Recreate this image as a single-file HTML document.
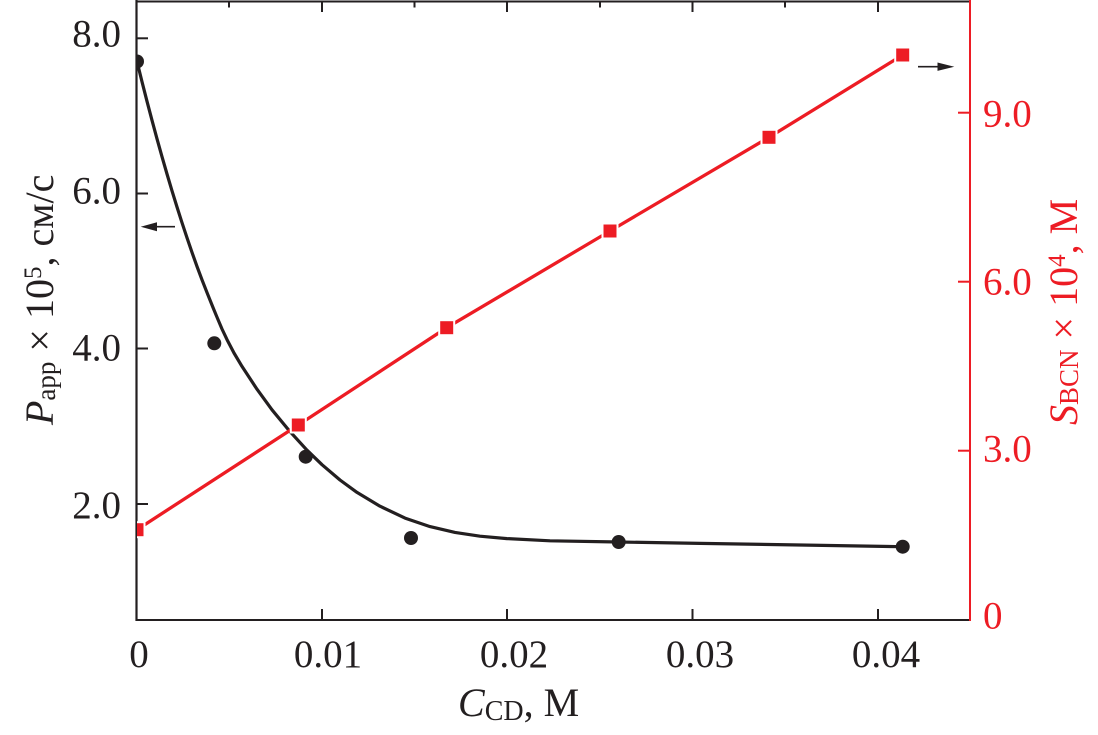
<!DOCTYPE html>
<html>
<head>
<meta charset="utf-8">
<style>
  html, body { margin: 0; padding: 0; background: #ffffff; }
  svg { display: block; }
  text { font-family: "Liberation Serif", "DejaVu Serif", serif; }
</style>
</head>
<body>
<svg width="1098" height="735" viewBox="0 0 1098 735" xmlns="http://www.w3.org/2000/svg">
  <defs>
    <clipPath id="plot">
      <rect x="137" y="0" width="833" height="620"/>
    </clipPath>
  </defs>
  <rect x="0" y="0" width="1098" height="735" fill="#ffffff"/>

  <!-- axes frame -->
  <line x1="136.5" y1="1.5" x2="970" y2="1.5" stroke="#231f20" stroke-width="2"/>
  <line x1="136.5" y1="0" x2="136.5" y2="621" stroke="#231f20" stroke-width="2.2"/>
  <line x1="135.5" y1="620" x2="970" y2="620" stroke="#231f20" stroke-width="2"/>
  <line x1="970" y1="0" x2="970" y2="621" stroke="#ed1c24" stroke-width="2"/>

  <!-- left ticks -->
  <g stroke="#231f20" stroke-width="2">
    <line x1="136.5" y1="38.3" x2="148" y2="38.3"/>
    <line x1="136.5" y1="193.5" x2="148" y2="193.5"/>
    <line x1="136.5" y1="348.5" x2="148" y2="348.5"/>
    <line x1="136.5" y1="504" x2="148" y2="504"/>
  </g>
  <!-- bottom ticks -->
  <g stroke="#231f20" stroke-width="2">
    <line x1="322" y1="620" x2="322" y2="609"/>
    <line x1="507" y1="620" x2="507" y2="609"/>
    <line x1="692.5" y1="620" x2="692.5" y2="609"/>
    <line x1="878" y1="620" x2="878" y2="609"/>
  </g>
  <!-- top ticks -->
  <g stroke="#231f20" stroke-width="2">
    <line x1="229" y1="1.5" x2="229" y2="7.5"/>
    <line x1="322" y1="1.5" x2="322" y2="12"/>
    <line x1="414.5" y1="1.5" x2="414.5" y2="7.5"/>
    <line x1="507" y1="1.5" x2="507" y2="12"/>
    <line x1="600" y1="1.5" x2="600" y2="7.5"/>
    <line x1="692.5" y1="1.5" x2="692.5" y2="12"/>
    <line x1="785" y1="1.5" x2="785" y2="7.5"/>
    <line x1="878" y1="1.5" x2="878" y2="12"/>
  </g>
  <!-- right ticks -->
  <g stroke="#ed1c24" stroke-width="2">
    <line x1="958" y1="112.7" x2="970" y2="112.7"/>
    <line x1="958" y1="281.7" x2="970" y2="281.7"/>
    <line x1="958" y1="450.7" x2="970" y2="450.7"/>
  </g>

  <!-- left tick labels -->
  <g font-size="39" fill="#231f20" text-anchor="end">
    <text x="121" y="46.7">8.0</text>
    <text x="121" y="203.3">6.0</text>
    <text x="121" y="360.7">4.0</text>
    <text x="121" y="518">2.0</text>
  </g>
  <!-- bottom tick labels -->
  <g font-size="39" fill="#231f20" text-anchor="middle">
    <text x="139" y="667">0</text>
    <text x="328" y="667">0.01</text>
    <text x="514" y="667">0.02</text>
    <text x="700" y="667">0.03</text>
    <text x="886" y="667">0.04</text>
  </g>
  <!-- right tick labels -->
  <g font-size="39" fill="#ed1c24" text-anchor="start">
    <text x="983" y="126.7">9.0</text>
    <text x="983" y="294.3">6.0</text>
    <text x="983" y="461.7">3.0</text>
    <text x="983" y="628.3">0</text>
  </g>

  <!-- x axis title -->
  <text x="458" y="716" font-size="40" fill="#231f20"><tspan font-style="italic">C</tspan><tspan font-size="28" dy="4">CD</tspan><tspan dy="-4">, М</tspan></text>

  <!-- left axis title -->
  <text transform="translate(53,425) rotate(-90)" font-size="40" fill="#231f20"><tspan font-style="italic">P</tspan><tspan font-size="27" dy="2">app</tspan><tspan dy="-2"> × 10</tspan><tspan font-size="25" dy="-12">5</tspan><tspan dy="12">, см/с</tspan></text>

  <!-- right axis title -->
  <text transform="translate(1077,425) rotate(-90)" font-size="40" fill="#ed1c24"><tspan font-style="italic">S</tspan><tspan font-size="27" dy="1">BCN</tspan><tspan dy="-1"> × 10</tspan><tspan font-size="25" dy="-12">4</tspan><tspan dy="12">, М</tspan></text>

  <g clip-path="url(#plot)">
    <!-- black fitted curve -->
    <polyline points="137,61.5 142,81.7 147,101.3 152,120.3 157,138.8 162,156.7 167,174 172,190.8 177,207 182,222.7 187,237.8 192,252.4 197,266.4 202,279.8 207,292.6 213,307.5 217,317.2 222,329 227,339.6 234,353 242,366.4 257,389.2 272,409.8 290,431.6 307,450.2 322,464.7 340,480 357,492.4 380,506.2 405,518.1 430,526.6 455,532.4 480,536.2 507,538.6 550,540.8 618.7,542 700,543.4 800,545 902.7,546.7" fill="none" stroke="#231f20" stroke-width="3.2" stroke-linejoin="round" stroke-linecap="round"/>

    <!-- red line -->
    <polyline points="137,529.7 298.3,425 446.7,327.7 610,231 769,137.3 902.7,55" fill="none" stroke="#ed1c24" stroke-width="3.3"/>

    <!-- red squares -->
    <g fill="#ed1c24" stroke="#ffffff" stroke-width="2">
      <rect x="129.5" y="522.2" width="15" height="15"/>
      <rect x="290.8" y="417.5" width="15" height="15"/>
      <rect x="439.2" y="320.2" width="15" height="15"/>
      <rect x="602.5" y="223.5" width="15" height="15"/>
      <rect x="761.5" y="129.8" width="15" height="15"/>
      <rect x="895.2" y="47.5" width="15" height="15"/>
    </g>

    <!-- black circles -->
    <g fill="#231f20">
      <circle cx="137" cy="61.5" r="7"/>
      <circle cx="214.3" cy="343.3" r="7"/>
      <circle cx="305.7" cy="456.7" r="7"/>
      <circle cx="411" cy="538" r="7"/>
      <circle cx="618.7" cy="542" r="7"/>
      <circle cx="902.7" cy="546.7" r="7"/>
    </g>
  </g>

  <!-- arrows -->
  <line x1="175" y1="226.7" x2="152" y2="226.7" stroke="#231f20" stroke-width="1.6"/>
  <polygon points="140.7,226.7 157,222.2 157,231.2" fill="#231f20"/>
  <line x1="918" y1="66.7" x2="942" y2="66.7" stroke="#231f20" stroke-width="1.6"/>
  <polygon points="954.3,66.7 937.5,62.5 937.5,70.9" fill="#231f20"/>
</svg>
</body>
</html>
